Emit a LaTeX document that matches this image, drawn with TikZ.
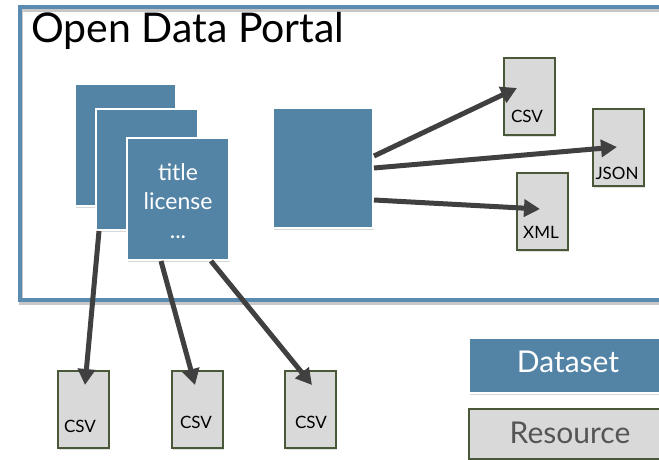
\documentclass[tikz,border=0pt]{standalone}
\usepackage{fontspec}
\setmainfont{Lato}
\usetikzlibrary{arrows.meta,shadows,calc}
\definecolor{dsblue}{RGB}{83,132,166}
\definecolor{frameblue}{RGB}{90,140,178}
\definecolor{resfill}{RGB}{217,217,217}
\definecolor{resborder}{RGB}{72,88,56}
\definecolor{arrowgray}{RGB}{64,64,64}
\definecolor{restext}{RGB}{85,85,85}
\tikzset{
  ds/.style={draw=white, line width=2pt, fill=dsblue, anchor=north west, inner sep=0pt,
    drop shadow={opacity=0.3, shadow xshift=1pt, shadow yshift=-2pt}},
  res/.style={draw=resborder, line width=1.6pt, fill=resfill, anchor=north west, inner sep=0pt,
    minimum width=51pt, minimum height=77pt,
    drop shadow={opacity=0.25, shadow xshift=1pt, shadow yshift=-2pt}},
  restxt/.style={font=\fontsize{17}{20}\selectfont, text=black, inner sep=0pt},
  link/.style={draw=arrowgray, line width=5pt, -{Triangle[length=16pt,width=17pt]}},
}
\begin{document}
\begin{tikzpicture}[x=1pt,y=-1pt]
\useasboundingbox (0,0) rectangle (659,460);
\clip (0,0) rectangle (659,460);
\fill[white] (0,0) rectangle (659,460);
% portal frame
\draw[black!22, line width=4.5pt] (21,9.5) rectangle (701,302.5);
\draw[frameblue, line width=4.5pt] (20,7) rectangle (700,300);
\node[anchor=base west, font=\fontsize{41}{45}\selectfont, inner sep=0pt] (title) at (31,43) {Open Data Portal};
% stacked datasets
\node[ds, minimum width=101pt, minimum height=122pt] (d1) at (74,83) {};
\node[ds, minimum width=102pt, minimum height=121pt] (d2) at (95,108) {};
\node[ds, minimum width=102pt, minimum height=122pt] (d3) at (126,137) {};
\node[text=white, align=center, font=\fontsize{23}{29}\selectfont, inner sep=0pt] (d3txt) at ($(d3.center)+(0,2)$) {title\\license\\...};
% single dataset
\node[ds, minimum width=100pt, minimum height=120pt] (ds) at (272,107) {};
% resources top
\node[res] (rA) at (503,57) {};
\node[res] (rJ) at (592,108) {};
\node[res] (rX) at (516,172) {};
\node[restxt] (rAt) at (527,116) {CSV};
\node[restxt] (rJt) at (617,173) {JSON};
\node[restxt] (rXt) at (541,232) {XML};
% resources bottom
\node[res] (b1) at (57,370) {};
\node[res] (b2) at (171,370) {};
\node[res] (b3) at (284,370) {};
\node[restxt] (b1t) at (80,426) {CSV};
\node[restxt] (b2t) at (196,422) {CSV};
\node[restxt] (b3t) at (311,422) {CSV};
% arrow targets
\coordinate (tA) at ($(rA.north west)+(14,31)$);
\coordinate (tJ) at ($(rJ.north west)+(25,39)$);
\coordinate (tX) at ($(rX.north west)+(24,37)$);
\coordinate (t1) at ($(b1.north west)+(28,15)$);
\coordinate (t2) at ($(b2.north west)+(24,15)$);
\coordinate (t3) at ($(b3.north west)+(28,15)$);
% arrows
\draw[link] ($(ds.east)+(0,-12)$) -- (tA);
\draw[link] (ds.east) -- (tJ);
\draw[link] ($(ds.east)+(0,32)$) -- (tX);
\draw[link] ($(d2.south west)+(4,0)$) -- (t1);
\draw[link] ($(d3.south)+(-17,0)$) -- (t2);
\draw[link] ($(d3.south)+(33,0)$) -- (t3);
% legend
\node[ds, minimum width=200pt, minimum height=55pt] (legD) at (468,337) {};
\node[text=white, font=\fontsize{30}{34}\selectfont, inner sep=0pt] (legDt) at (568,362) {Dataset};
\node[res, minimum width=200pt, minimum height=50pt] (legR) at (468,408) {};
\node[text=restext, font=\fontsize{30}{34}\selectfont, inner sep=0pt] (legRt) at (570,433) {Resource};
\end{tikzpicture}
\end{document}
